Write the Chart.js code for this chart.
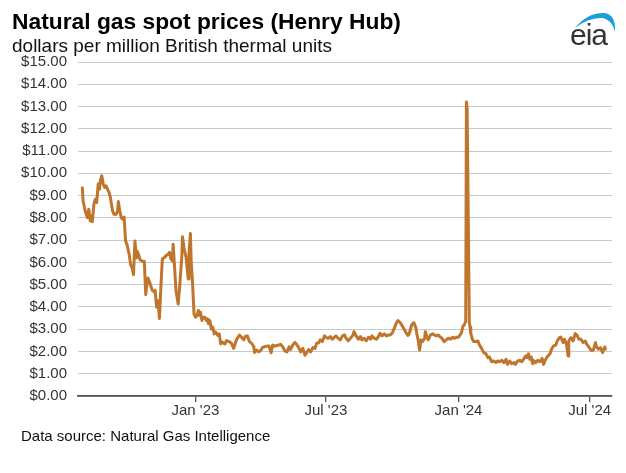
<!DOCTYPE html>
<html><head><meta charset="utf-8">
<script src="https://cdn.jsdelivr.net/npm/chart.js@4"></script>
<style>
html,body{margin:0;padding:0;background:#fff;}
#wrap{position:relative;width:626px;height:473px;overflow:hidden;font-family:"Liberation Sans",Arial,sans-serif;}
canvas{position:absolute;left:0;top:0;}
.t{position:absolute;white-space:nowrap;line-height:1;color:#000;}
</style></head><body>
<div id="wrap">
<canvas id="c" width="626" height="473"></canvas>
<div class="t" style="left:12px;top:10px;font-size:22.8px;font-weight:bold;">Natural gas spot prices (Henry Hub)</div>
<div class="t" style="left:12px;top:36px;font-size:19px;color:#111;">dollars per million British thermal units</div>
<div class="t" style="left:21px;top:428px;font-size:15px;color:#111;">Data source: Natural Gas Intelligence</div>
<svg style="position:absolute;left:560px;top:6px;" width="62" height="45" viewBox="0 0 62 45">
  <path d="M15,22 Q28,6 45,7 Q56,9 55,26 Q52,14 43,12 Q29,11 15,22 Z" fill="#1a9fdb"/>
</svg>
<div class="t" style="left:570px;top:20px;font-size:30px;color:#333;letter-spacing:-1px;">eia</div>
</div>
<script>
const dates = [
"2022-07-28","2022-07-29","2022-08-01","2022-08-04","2022-08-06","2022-08-08","2022-08-10","2022-08-11","2022-08-13","2022-08-15",
"2022-08-17","2022-08-19","2022-08-21","2022-08-22","2022-08-24","2022-08-26","2022-08-28","2022-08-30","2022-09-01","2022-09-03",
"2022-09-05","2022-09-06","2022-09-08","2022-09-10","2022-09-13","2022-09-15","2022-09-16","2022-09-18","2022-09-20","2022-09-22",
"2022-09-24","2022-09-26","2022-09-28","2022-09-29","2022-10-01","2022-10-03","2022-10-05","2022-10-07","2022-10-09","2022-10-11",
"2022-10-12","2022-10-14","2022-10-16","2022-10-19","2022-10-22","2022-10-24","2022-10-25","2022-10-27","2022-10-29","2022-11-02",
"2022-11-05","2022-11-06","2022-11-08","2022-11-10","2022-11-12","2022-11-14","2022-11-16","2022-11-19","2022-11-21","2022-11-24",
"2022-11-26","2022-11-28","2022-11-30","2022-12-01","2022-12-03","2022-12-05","2022-12-08","2022-12-10","2022-12-13","2022-12-14",
"2022-12-16","2022-12-19","2022-12-22","2022-12-23","2022-12-25","2022-12-26","2022-12-28","2022-12-30","2023-01-01","2023-01-03",
"2023-01-05","2023-01-07","2023-01-08","2023-01-10","2023-01-12","2023-01-14","2023-01-16","2023-01-18","2023-01-19","2023-01-21",
"2023-01-23","2023-01-25","2023-01-27","2023-01-29","2023-02-01","2023-02-03","2023-02-05","2023-02-07","2023-02-11","2023-02-13",
"2023-02-17","2023-02-20","2023-02-23","2023-02-26","2023-02-28","2023-03-03","2023-03-06","2023-03-09","2023-03-11","2023-03-14",
"2023-03-17","2023-03-20","2023-03-23","2023-03-24","2023-03-27","2023-03-30","2023-04-02","2023-04-04","2023-04-07","2023-04-10",
"2023-04-13","2023-04-16","2023-04-18","2023-04-21","2023-04-24","2023-04-27","2023-04-29","2023-05-02","2023-05-05","2023-05-08",
"2023-05-11","2023-05-13","2023-05-16","2023-05-19","2023-05-22","2023-05-24","2023-05-27","2023-05-30","2023-06-02","2023-06-05",
"2023-06-07","2023-06-10","2023-06-13","2023-06-16","2023-06-18","2023-06-21","2023-06-23","2023-06-26","2023-06-29","2023-07-01",
"2023-07-04","2023-07-07","2023-07-10","2023-07-13","2023-07-15","2023-07-18","2023-07-21","2023-07-24","2023-07-27","2023-07-29",
"2023-08-01","2023-08-04","2023-08-07","2023-08-09","2023-08-12","2023-08-15","2023-08-18","2023-08-20","2023-08-23","2023-08-26",
"2023-08-29","2023-09-01","2023-09-03","2023-09-06","2023-09-09","2023-09-12","2023-09-14","2023-09-17","2023-09-20","2023-09-23",
"2023-09-26","2023-09-28","2023-10-01","2023-10-04","2023-10-07","2023-10-09","2023-10-12","2023-10-15","2023-10-18","2023-10-21",
"2023-10-23","2023-10-25","2023-10-28","2023-10-31","2023-11-03","2023-11-04","2023-11-06","2023-11-08","2023-11-10","2023-11-12",
"2023-11-15","2023-11-16","2023-11-18","2023-11-20","2023-11-23","2023-11-26","2023-11-29","2023-12-01","2023-12-04","2023-12-07",
"2023-12-10","2023-12-12","2023-12-15","2023-12-18","2023-12-21","2023-12-24","2023-12-26","2023-12-29","2024-01-01","2024-01-04",
"2024-01-05","2024-01-07","2024-01-09","2024-01-11","2024-01-12","2024-01-13","2024-01-16","2024-01-17","2024-01-18","2024-01-20",
"2024-01-22","2024-01-25","2024-01-28","2024-01-30","2024-02-02","2024-02-05","2024-02-08","2024-02-11","2024-02-13","2024-02-16",
"2024-02-19","2024-02-22","2024-02-24","2024-02-27","2024-03-01","2024-03-04","2024-03-07","2024-03-09","2024-03-12","2024-03-15",
"2024-03-18","2024-03-20","2024-03-23","2024-03-26","2024-03-29","2024-04-01","2024-04-03","2024-04-05","2024-04-07","2024-04-09",
"2024-04-11","2024-04-13","2024-04-14","2024-04-17","2024-04-20","2024-04-23","2024-04-26","2024-04-28","2024-05-01","2024-05-04",
"2024-05-07","2024-05-09","2024-05-12","2024-05-15","2024-05-17","2024-05-20","2024-05-22","2024-05-25","2024-05-27","2024-05-30",
"2024-06-01","2024-06-02","2024-06-05","2024-06-08","2024-06-11","2024-06-14","2024-06-16","2024-06-19","2024-06-22","2024-06-25",
"2024-06-27","2024-06-30","2024-07-03","2024-07-06","2024-07-09","2024-07-10","2024-07-13","2024-07-16","2024-07-19","2024-07-22",
"2024-07-23"
];
const prices = [
9.40,8.77,8.31,8.01,8.39,7.86,8.09,7.83,8.61,8.84,
8.69,9.52,9.29,9.67,9.89,9.52,9.37,9.44,9.29,9.14,
8.92,8.69,8.31,8.16,8.16,8.31,8.73,8.31,8.01,7.94,
8.04,6.96,6.81,6.81,6.36,5.90,5.75,5.45,6.96,6.20,
6.51,6.36,6.13,6.05,6.05,4.55,4.85,5.30,5.15,4.75,
4.66,4.75,3.99,4.28,3.48,4.88,6.15,6.22,6.30,6.37,
6.45,6.15,6.07,6.82,5.78,4.73,4.13,4.88,6.22,7.15,
6.67,6.22,5.25,6.37,7.30,6.07,5.03,3.69,3.54,3.61,
3.84,3.61,3.76,3.39,3.54,3.54,3.39,3.46,3.24,3.39,
3.01,3.09,2.79,2.87,2.72,2.79,2.34,2.42,2.34,2.49,
2.44,2.36,2.14,2.44,2.59,2.74,2.64,2.52,2.67,2.70,
2.44,2.36,2.21,1.95,2.06,1.98,2.06,2.18,2.21,2.24,
2.24,1.94,2.29,2.24,2.27,2.29,2.32,2.21,2.03,1.98,
2.21,2.09,2.29,2.41,2.29,2.18,1.98,2.14,1.83,1.98,
2.09,1.98,2.18,2.14,2.36,2.39,2.52,2.44,2.70,2.64,
2.59,2.67,2.55,2.64,2.70,2.59,2.52,2.70,2.74,2.59,
2.48,2.59,2.70,2.89,2.70,2.55,2.67,2.52,2.59,2.48,
2.64,2.55,2.70,2.59,2.55,2.67,2.82,2.70,2.79,2.70,
2.74,2.74,2.82,3.05,3.30,3.39,3.30,3.15,2.97,2.80,
2.72,2.84,3.20,3.30,3.05,2.82,2.52,2.06,2.52,2.44,
2.59,2.89,2.67,2.52,2.74,2.79,2.74,2.70,2.74,2.64,
2.55,2.44,2.52,2.59,2.55,2.64,2.59,2.64,2.64,2.79,
2.82,3.12,3.20,3.35,13.20,12.90,3.30,3.10,2.82,2.57,
2.45,2.45,2.47,2.30,2.14,1.95,1.90,1.72,1.75,1.54,
1.57,1.50,1.57,1.54,1.60,1.50,1.65,1.42,1.57,1.45,
1.50,1.42,1.57,1.60,1.54,1.69,1.80,1.72,1.90,1.65,
1.75,1.45,1.60,1.50,1.60,1.54,1.69,1.42,1.65,1.80,
1.90,2.10,2.25,2.29,2.47,2.62,2.65,2.40,2.55,2.32,
1.80,2.47,2.62,2.47,2.80,2.70,2.55,2.55,2.40,2.47,
2.32,2.20,2.05,2.05,2.40,2.25,2.10,2.17,1.95,2.20,
2.05
];
const tickDates = ["2023-01-01","2023-07-01","2024-01-01","2024-07-01"];
const tickLabels = ["Jan '23","Jul '23","Jan '24","Jul '24"];
const axisStart = "2022-07-22";
const axisEnd = "2024-08-01";
const yMin = 0, yMax = 15, yStep = 1;

const toDay = s => Date.parse(s + "T00:00:00Z") / 86400000;
const FONT = '"Liberation Sans", Arial, sans-serif';

new Chart(document.getElementById('c').getContext('2d'), {
  type: 'line',
  data: {
    datasets: [{
      data: dates.map((d, i) => ({ x: toDay(d), y: prices[i] })),
      borderColor: '#BF762C',
      borderWidth: 3,
      pointRadius: 0,
      tension: 0,
      fill: false,
      borderJoinStyle: 'round'
    }]
  },
  options: {
    responsive: false,
    animation: false,
    devicePixelRatio: 1,
    layout: { padding: { top: 62, right: 14, bottom: 47, left: 0 } },
    plugins: { legend: { display: false }, tooltip: { enabled: false } },
    scales: {
      x: {
        type: 'linear',
        min: toDay(axisStart),
        max: toDay(axisEnd),
        afterBuildTicks: s => { s.ticks = tickDates.map(d => ({ value: toDay(d) })); },
        afterFit: s => { s.height = 30; },
        ticks: {
          autoSkip: false, maxRotation: 0, padding: 0,
          color: '#333', font: { family: FONT, size: 15 },
          callback: (v, i) => tickLabels[i]
        },
        grid: { drawOnChartArea: false, drawTicks: true, tickLength: 6, color: '#555', lineWidth: 1.3 },
        border: { display: true, color: '#555', width: 1.8 }
      },
      y: {
        min: yMin, max: yMax,
        afterFit: s => { s.width = 78; },
        ticks: {
          stepSize: yStep, padding: 11, color: '#333',
          font: { family: FONT, size: 15 },
          callback: v => '$' + Number(v).toFixed(2)
        },
        grid: { color: '#c8c8c8', lineWidth: 1, drawTicks: false },
        border: { display: false }
      }
    }
  }
});
</script>
</body></html>
